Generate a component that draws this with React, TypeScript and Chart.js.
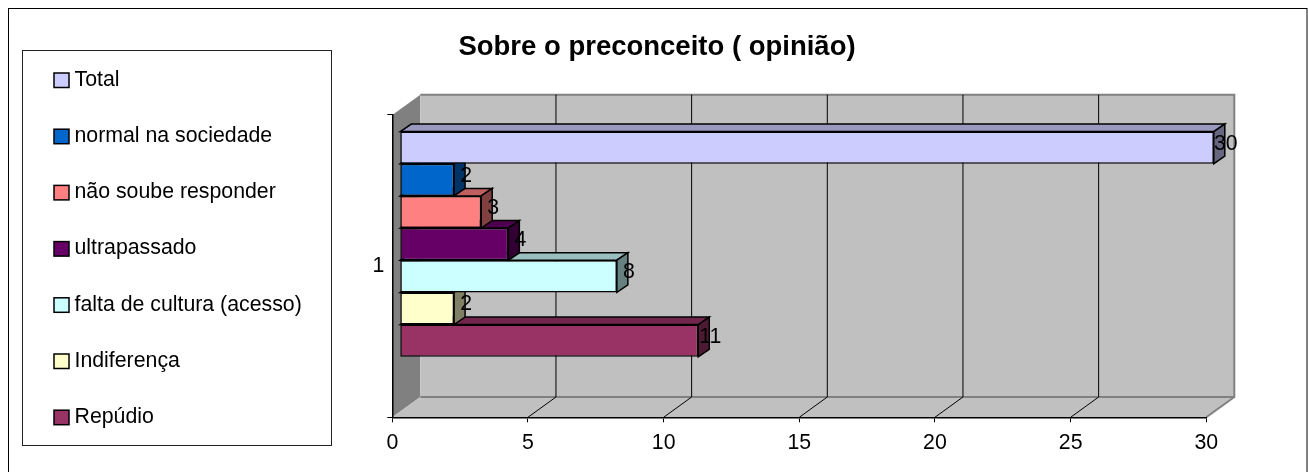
import React, { useEffect, useRef } from "react";
import { Chart, registerables } from "chart.js";

Chart.register(...registerables);

const categories = ["1"];
const seriesNames = [
  "Total",
  "normal na sociedade",
  "não soube responder",
  "ultrapassado",
  "falta de cultura (acesso)",
  "Indiferença",
  "Repúdio",
];
const seriesValues = [30, 2, 3, 4, 8, 2, 11];
const seriesColors = ["#CCCCFF", "#0066CC", "#FF8080", "#660066", "#CCFFFF", "#FFFFCC", "#993366"];

const FONT = '"Liberation Sans", Arial, sans-serif';
const W = 1308;
const H = 472;
const WALL = { dx: 28, dy: -20.3 };
const BAR_SHIFT = { x: 7.5, y: -22 };
const BAR_DEPTH = { dx: 11, dy: -7.5 };

function shade(hex: string, f: number) {
  const n = parseInt(hex.slice(1), 16);
  const c = [(n >> 16) & 255, (n >> 8) & 255, n & 255].map((v) => Math.round(v * f));
  return `rgb(${c[0]},${c[1]},${c[2]})`;
}

function poly(ctx: CanvasRenderingContext2D, pts: number[][], fill: string, stroke?: string, lw = 1) {
  ctx.beginPath();
  pts.forEach((p, i) => (i ? ctx.lineTo(p[0], p[1]) : ctx.moveTo(p[0], p[1])));
  ctx.closePath();
  ctx.fillStyle = fill;
  ctx.fill();
  if (stroke) {
    ctx.strokeStyle = stroke;
    ctx.lineWidth = lw;
    ctx.lineJoin = "miter";
    ctx.stroke();
  }
}

const scene3d = {
  id: "scene3d",
  afterLayout(chart: any) {
    const t = chart.titleBlock;
    if (t) {
      t.left = 0;
      t.right = 1314;
    }
  },
  beforeDraw(chart: any) {
    const ctx: CanvasRenderingContext2D = chart.ctx;
    const { left, right, top, bottom } = chart.chartArea;
    const { dx, dy } = WALL;
    ctx.save();
    ctx.fillStyle = "#fff";
    ctx.fillRect(0, 0, W, H);
    ctx.strokeStyle = "#000";
    ctx.lineWidth = 1;
    ctx.strokeRect(8.5, 8.5, 1298.5, 470);

    // legend
    ctx.strokeStyle = "#222";
    ctx.strokeRect(22.5, 50.5, 309, 395);
    ctx.font = `21.3px ${FONT}`;
    ctx.textBaseline = "middle";
    ctx.textAlign = "left";
    chart.data.datasets.forEach((d: any, i: number) => {
      const cy = 80 + i * 56.2;
      ctx.fillStyle = d.backgroundColor;
      ctx.fillRect(54, cy - 7, 15, 14.5);
      ctx.strokeStyle = "#000";
      ctx.lineWidth = 1.5;
      ctx.strokeRect(54, cy - 7, 15, 14.5);
      ctx.fillStyle = "#000";
      ctx.fillText(d.label, 74.5, cy);
    });

    // walls and floor
    poly(ctx, [[left, top], [left + dx, top + dy], [left + dx, bottom + dy], [left, bottom]], "#808080");
    poly(ctx, [[left, bottom], [left + dx, bottom + dy], [right + dx, bottom + dy], [right, bottom]], "#C0C0C0");
    ctx.fillStyle = "#C0C0C0";
    ctx.fillRect(left + dx, top + dy, right - left, bottom - top);
    ctx.strokeStyle = "#808080";
    ctx.lineWidth = 2;
    ctx.beginPath();
    ctx.moveTo(left + dx, top + dy);
    ctx.lineTo(right + dx, top + dy);
    ctx.lineTo(right + dx, bottom + dy);
    ctx.lineTo(left + dx, bottom + dy);
    ctx.moveTo(right + dx, bottom + dy);
    ctx.lineTo(right, bottom);
    ctx.stroke();

    // value grid on wall and floor
    const xs = chart.scales.x;
    ctx.strokeStyle = "#000";
    ctx.lineWidth = 1;
    xs.ticks.forEach((_: any, i: number) => {
      const x = xs.getPixelForTick(i);
      if (i === 0 || i === xs.ticks.length - 1) return;
      ctx.beginPath();
      ctx.moveTo(x, bottom);
      ctx.lineTo(x + dx, bottom + dy);
      ctx.lineTo(x + dx, top + dy);
      ctx.stroke();
    });
    ctx.restore();
  },
  beforeDatasetDraw(chart: any, args: any) {
    const ctx: CanvasRenderingContext2D = chart.ctx;
    const color = chart.data.datasets[args.index].backgroundColor;
    ctx.save();
    ctx.translate(BAR_SHIFT.x, BAR_SHIFT.y);
    const { dx, dy } = BAR_DEPTH;
    args.meta.data.forEach((el: any) => {
      const { x, y, base, height } = el.getProps(["x", "y", "base", "height"], true);
      const t = y - height / 2;
      const b = y + height / 2;
      poly(ctx, [[base, t], [base + dx, t + dy], [x + dx, t + dy], [x, t]], shade(color, 0.75), "#000", 1.5);
      poly(ctx, [[x, t], [x + dx, t + dy], [x + dx, b + dy], [x, b]], shade(color, 0.5), "#000", 1.5);
    });
  },
  afterDatasetDraw(chart: any) {
    chart.ctx.restore();
  },
  afterDatasetsDraw(chart: any) {
    const ctx: CanvasRenderingContext2D = chart.ctx;
    ctx.save();
    ctx.font = `21.3px ${FONT}`;
    ctx.fillStyle = "#000";
    ctx.textAlign = "center";
    ctx.textBaseline = "middle";
    chart.data.datasets.forEach((d: any, i: number) => {
      chart.getDatasetMeta(i).data.forEach((el: any, j: number) => {
        const { x, y } = el.getProps(["x", "y"], true);
        ctx.fillText(String(d.data[j]), x + BAR_SHIFT.x + 12, y + BAR_SHIFT.y - 4);
      });
    });
    ctx.restore();
  },
};

export default function App() {
  const ref = useRef<HTMLCanvasElement>(null);
  useEffect(() => {
    const chart = new Chart(ref.current as HTMLCanvasElement, {
      type: "bar",
      data: {
        labels: categories,
        datasets: seriesNames.map((label, i) => ({
          label,
          data: [seriesValues[i]],
          backgroundColor: seriesColors[i],
          borderColor: "#000",
          borderWidth: 1.5,
          borderSkipped: false,
          barPercentage: 1,
          categoryPercentage: 0.745,
          clip: false,
        })),
      } as any,
      plugins: [scene3d],
      options: {
        indexAxis: "y",
        animation: false,
        responsive: false,
        layout: { padding: { left: 332.3, right: 101.7, top: 31, bottom: 0 } },
        plugins: {
          legend: { display: false },
          tooltip: { enabled: false },
          title: {
            display: true,
            text: "Sobre o preconceito ( opinião)",
            color: "#000",
            font: { family: FONT, size: 27.5, weight: "bold", lineHeight: 1.2 },
            padding: { top: 0, bottom: 51 },
          },
        },
        scales: {
          x: {
            type: "linear",
            min: 0,
            max: 30,
            position: "bottom",
            afterFit: (s: any) => {
              s.height = H - 417.3;
            },
            ticks: { stepSize: 5, color: "#000", font: { family: FONT, size: 21.3 }, padding: 8, maxRotation: 0 },
            grid: { drawOnChartArea: false, drawTicks: true, tickLength: 5, color: "#000", lineWidth: 1 },
            border: { display: true, color: "#000", width: 1.5 },
          },
          y: {
            type: "category",
            afterFit: (s: any) => {
              s.width = 60;
            },
            ticks: { color: "#000", font: { family: FONT, size: 21.3 }, padding: 3 },
            grid: { drawOnChartArea: false, drawTicks: true, tickLength: 5, color: "#000", lineWidth: 1, offset: true },
            border: { display: true, color: "#000", width: 1.5 },
          },
        },
      } as any,
    });
    return () => chart.destroy();
  }, []);
  return (
    <canvas
      ref={ref}
      width={W}
      height={H}
      style={{ position: "absolute", left: 0, top: 0, display: "block" }}
    />
  );
}
